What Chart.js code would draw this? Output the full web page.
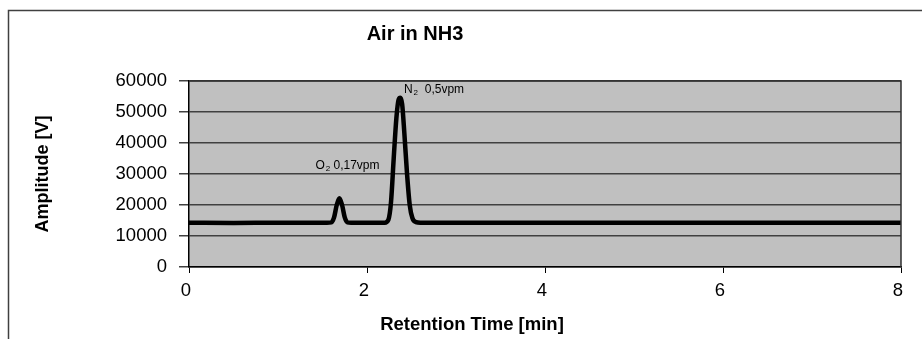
<!DOCTYPE html>
<html>
<head>
<meta charset="utf-8">
<script src="https://cdn.jsdelivr.net/npm/chart.js@4"></script>
<style>
    html, body { margin: 0; padding: 0; background: #ffffff; }
    #graphique1 { display: block; }
</style>
</head>
<body>
<div style="width:922px;height:339px;position:relative;">
    <canvas id="graphique1" width="922" height="339"></canvas>
</div>
<script>
const titre = "Air in NH3";
const titreX = "Retention Time [min]";
const temps = [0, 0.5, 1.0, 1.55, 1.60, 1.63, 1.66, 1.69, 1.72, 1.75, 1.78, 1.82, 2.0, 2.20, 2.24, 2.27, 2.30, 2.33, 2.355, 2.375, 2.395, 2.42, 2.45, 2.48, 2.51, 2.55, 2.60, 3.0, 4.0, 5.0, 6.0, 7.0, 8.0];
const amplitude = [14300, 14200, 14300, 14300, 14400, 16000, 20000, 22200, 20000, 16000, 14400, 14300, 14300, 14300, 15200, 21000, 35000, 48000, 54000, 54600, 52500, 43000, 30000, 20000, 15800, 14500, 14300, 14300, 14300, 14300, 14300, 14300, 14300];
const ticksX = [0, 2, 4, 6, 8];
const ticksY = [0, 10000, 20000, 30000, 40000, 50000, 60000];
const picsNom = ["O", "N"];
const picsIndice = ["2", "2"];
const picsTexte = [" 0,17vpm", "  0,5vpm"];
const picsTemps = [1.42, 2.415];
const picsAmplitude = [31500, 56000];

const police = "'Liberation Sans', Arial, sans-serif";

const points = [];
for (let i = 0; i < temps.length; i++) {
    points.push({x: temps[i], y: amplitude[i]});
}

// fond gris, cadre, titres et etiquettes des pics
const decor = {
    id: "decor",
    beforeDraw(chart) {
        const ctx = chart.ctx;
        const a = chart.chartArea;
        ctx.save();
        ctx.fillStyle = "#ffffff";
        ctx.fillRect(0, 0, chart.width, chart.height);
        ctx.strokeStyle = "#404040";
        ctx.lineWidth = 1.5;
        ctx.strokeRect(8.5, 10.5, 1000, 1000);
        ctx.fillStyle = "#c0c0c0";
        ctx.fillRect(a.left, a.top, a.right - a.left, a.bottom - a.top);
        ctx.restore();
    },
    afterDatasetsDraw(chart) {
        const ctx = chart.ctx;
        const a = chart.chartArea;
        ctx.save();
        ctx.strokeStyle = "#303030";
        ctx.lineWidth = 1.5;
        ctx.beginPath();
        ctx.moveTo(a.left, a.top);
        ctx.lineTo(a.right, a.top);
        ctx.lineTo(a.right, a.bottom);
        ctx.stroke();

        ctx.fillStyle = "#000000";
        ctx.font = "bold 20px " + police;
        ctx.textAlign = "center";
        ctx.textBaseline = "middle";
        ctx.fillText(titre, 415, 34);

        ctx.font = "bold 18.5px " + police;
        ctx.fillText(titreX, 472, 325);

        ctx.textAlign = "left";
        ctx.textBaseline = "alphabetic";
        for (let i = 0; i < picsNom.length; i++) {
            let x = chart.scales.x.getPixelForValue(picsTemps[i]);
            const y = chart.scales.y.getPixelForValue(picsAmplitude[i]);
            ctx.font = "12px " + police;
            ctx.fillText(picsNom[i], x, y);
            x += ctx.measureText(picsNom[i]).width;
            ctx.font = "8px " + police;
            ctx.fillText(picsIndice[i], x + 1, y + 2);
            x += ctx.measureText(picsIndice[i]).width + 1;
            ctx.font = "12px " + police;
            ctx.fillText(picsTexte[i], x, y);
        }
        ctx.restore();
    }
};

const data = {
    datasets: [{
        data: points,
        borderColor: "#000000",
        borderWidth: 4.5,
        pointRadius: 0,
        fill: false,
        tension: 0.35,
        cubicInterpolationMode: "monotone"
    }]
};

const config = {
    type: "line",
    data: data,
    options: {
        responsive: false,
        animation: false,
        layout: {
            padding: {left: 30, right: 21, top: 81, bottom: 0}
        },
        scales: {
            x: {
                type: "linear",
                min: 0,
                max: 8,
                afterFit(scale) { scale.height = 72; },
                afterBuildTicks(scale) { scale.ticks = ticksX.map(v => ({value: v})); },
                grid: {
                    drawOnChartArea: false,
                    color: "#000000",
                    tickLength: 6
                },
                border: { color: "#000000", width: 1.5 },
                ticks: {
                    color: "#000000",
                    padding: 7,
                    labelOffset: -3,
                    maxRotation: 0,
                    callback: v => String(v),
                    font: { family: police, size: 18.5 }
                },
                title: { display: false }
            },
            y: {
                min: 0,
                max: 60000,
                afterFit(scale) { scale.width = 159; },
                afterBuildTicks(scale) { scale.ticks = ticksY.map(v => ({value: v})); },
                grid: {
                    color: "#404040",
                    lineWidth: 1.5,
                    tickLength: 10
                },
                border: { color: "#000000", width: 1.5 },
                ticks: {
                    color: "#000000",
                    padding: 12,
                    callback: v => String(v),
                    font: { family: police, size: 18.5 }
                },
                title: {
                    display: true,
                    text: "Amplitude [V]",
                    color: "#000000",
                    padding: {top: 2, bottom: 0},
                    font: { family: police, size: 18, weight: "bold" }
                }
            }
        },
        plugins: {
            legend: { display: false },
            title: { display: false },
            tooltip: { enabled: false }
        }
    },
    plugins: [decor]
};

const chart1 = new Chart(
    document.querySelector("#graphique1"),
    config
);
</script>
</body>
</html>
